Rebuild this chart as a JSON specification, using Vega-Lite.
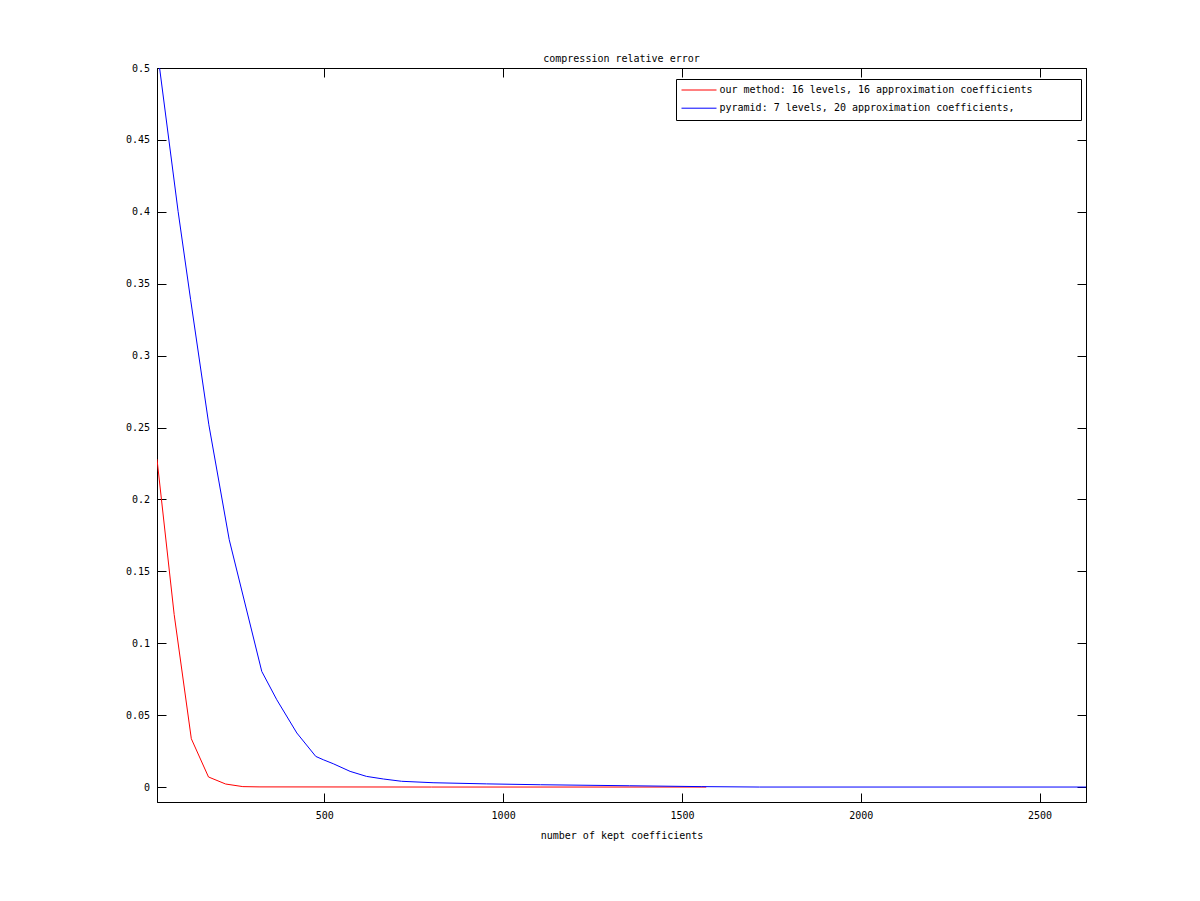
{
  "$schema": "https://vega.github.io/schema/vega-lite/v6.json",
  "width": 929,
  "height": 734,
  "autosize": "none",
  "padding": {"left": 157, "top": 68, "right": 114, "bottom": 99},
  "background": "white",
  "title": {"text": "compression relative error", "font": "DejaVu Sans Mono", "fontSize": 10, "fontWeight": "normal", "color": "black", "offset": -19, "anchor": "middle"},
  "config": {
    "view": {"stroke": "black", "strokeWidth": 1},
    "axis": {"domainColor": "black", "domainWidth": 1, "tickColor": "black", "tickWidth": 1, "tickSize": -9, "grid": false, "minExtent": 0,
      "labelFont": "DejaVu Sans Mono", "labelFontSize": 10, "labelColor": "black",
      "titleFont": "DejaVu Sans Mono", "titleFontSize": 10, "titleFontWeight": "normal", "titleColor": "black"},
    "legend": {"labelFont": "DejaVu Sans Mono", "labelFontSize": 10, "labelColor": "black"}
  },
  "data": {"values": [
    {"n": 32, "err": 0.228, "series": "our method: 16 levels, 16 approximation coefficients"},
    {"n": 80, "err": 0.120, "series": "our method: 16 levels, 16 approximation coefficients"},
    {"n": 128, "err": 0.0336, "series": "our method: 16 levels, 16 approximation coefficients"},
    {"n": 176, "err": 0.007, "series": "our method: 16 levels, 16 approximation coefficients"},
    {"n": 224, "err": 0.0021, "series": "our method: 16 levels, 16 approximation coefficients"},
    {"n": 272, "err": 0.0003, "series": "our method: 16 levels, 16 approximation coefficients"},
    {"n": 320, "err": 0.0001, "series": "our method: 16 levels, 16 approximation coefficients"},
    {"n": 800, "err": 0.0, "series": "our method: 16 levels, 16 approximation coefficients"},
    {"n": 1568, "err": 0.0, "series": "our method: 16 levels, 16 approximation coefficients"},
    {"n": 32, "err": 0.514, "series": "pyramid: 7 levels, 20 approximation coefficients,"},
    {"n": 91, "err": 0.4003, "series": "pyramid: 7 levels, 20 approximation coefficients,"},
    {"n": 126, "err": 0.3389, "series": "pyramid: 7 levels, 20 approximation coefficients,"},
    {"n": 177, "err": 0.2519, "series": "pyramid: 7 levels, 20 approximation coefficients,"},
    {"n": 234, "err": 0.172, "series": "pyramid: 7 levels, 20 approximation coefficients,"},
    {"n": 325, "err": 0.0804, "series": "pyramid: 7 levels, 20 approximation coefficients,"},
    {"n": 367, "err": 0.0607, "series": "pyramid: 7 levels, 20 approximation coefficients,"},
    {"n": 423, "err": 0.0376, "series": "pyramid: 7 levels, 20 approximation coefficients,"},
    {"n": 476, "err": 0.0213, "series": "pyramid: 7 levels, 20 approximation coefficients,"},
    {"n": 497, "err": 0.019, "series": "pyramid: 7 levels, 20 approximation coefficients,"},
    {"n": 525, "err": 0.0162, "series": "pyramid: 7 levels, 20 approximation coefficients,"},
    {"n": 572, "err": 0.0109, "series": "pyramid: 7 levels, 20 approximation coefficients,"},
    {"n": 618, "err": 0.0074, "series": "pyramid: 7 levels, 20 approximation coefficients,"},
    {"n": 665, "err": 0.0056, "series": "pyramid: 7 levels, 20 approximation coefficients,"},
    {"n": 716, "err": 0.0040, "series": "pyramid: 7 levels, 20 approximation coefficients,"},
    {"n": 804, "err": 0.0030, "series": "pyramid: 7 levels, 20 approximation coefficients,"},
    {"n": 954, "err": 0.0022, "series": "pyramid: 7 levels, 20 approximation coefficients,"},
    {"n": 1105, "err": 0.0016, "series": "pyramid: 7 levels, 20 approximation coefficients,"},
    {"n": 1354, "err": 0.0009, "series": "pyramid: 7 levels, 20 approximation coefficients,"},
    {"n": 1554, "err": 0.0003, "series": "pyramid: 7 levels, 20 approximation coefficients,"},
    {"n": 1717, "err": 0.0, "series": "pyramid: 7 levels, 20 approximation coefficients,"},
    {"n": 2630, "err": 0.0, "series": "pyramid: 7 levels, 20 approximation coefficients,"}
  ]},
  "resolve": {"axis": {"x": "independent", "y": "independent"}},
  "layer": [
    {
      "mark": {"type": "line", "strokeWidth": 1, "clip": true},
      "encoding": {
        "x": {"field": "n", "type": "quantitative", "scale": {"domain": [32, 2630], "nice": false, "zero": false},
          "axis": {"orient": "bottom", "values": [500, 1000, 1500, 2000, 2500], "format": "d", "title": "number of kept coefficients", "labelPadding": 17.5, "titlePadding": 10}},
        "y": {"field": "err", "type": "quantitative", "scale": {"domain": [-0.0104, 0.5], "nice": false, "zero": false},
          "axis": {"orient": "left", "values": [0, 0.05, 0.1, 0.15, 0.2, 0.25, 0.3, 0.35, 0.4, 0.45, 0.5], "format": "~g", "title": null, "labelPadding": 16.4}},
        "color": {"field": "series", "type": "nominal",
          "scale": {"domain": ["our method: 16 levels, 16 approximation coefficients", "pyramid: 7 levels, 20 approximation coefficients,"], "range": ["#ff0000", "#0000ff"]},
          "legend": {"title": null, "orient": "none", "legendX": 519, "legendY": 11, "symbolType": "M-5,0H5", "symbolSize": 49, "symbolStrokeWidth": 1, "symbolOffset": 12,
            "strokeColor": "black", "fillColor": "white", "padding": 6, "rowPadding": 8.2, "labelOffset": 15.5, "labelLimit": 0,
            "labelExpr": "datum.label + '\u2800\u2800\u2800\u2800\u2800\u2800'"}}
      }
    },
    {
      "mark": {"type": "point", "opacity": 0},
      "encoding": {
        "x": {"field": "n", "type": "quantitative", "axis": {"orient": "top", "values": [500, 1000, 1500, 2000, 2500], "labels": false, "title": null}},
        "y": {"field": "err", "type": "quantitative", "axis": {"orient": "right", "values": [0, 0.05, 0.1, 0.15, 0.2, 0.25, 0.3, 0.35, 0.4, 0.45, 0.5], "labels": false, "title": null}}
      }
    }
  ]
}
